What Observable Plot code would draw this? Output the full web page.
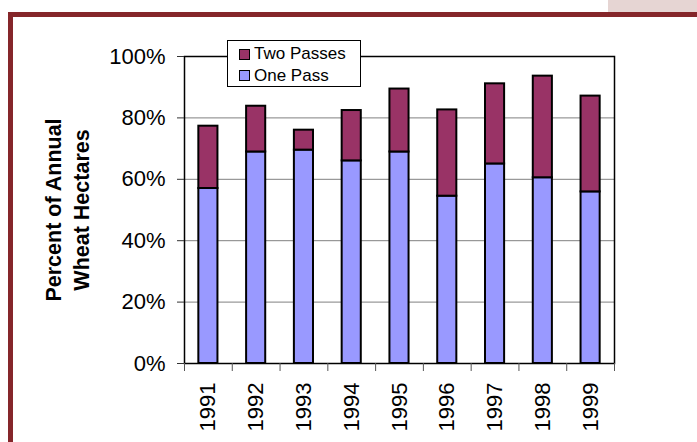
<!DOCTYPE html>
<html>
<head>
<meta charset="utf-8">
<script src="https://cdn.jsdelivr.net/npm/d3@7"></script>
<script src="https://cdn.jsdelivr.net/npm/@observablehq/plot@0.6"></script>
<style>
  body { margin: 0; background: #fff; font-family: "Liberation Sans", Arial, sans-serif; }
  #page { position: relative; width: 697px; height: 442px; overflow: hidden; }
  #chart { position: absolute; left: 0; top: 0; }
  #tab { position: absolute; left: 608px; top: 0; width: 89px; height: 12px; background: #e6d5d3; }
  #rule-top { position: absolute; left: 8px; top: 12px; width: 689px; height: 5px; background: #85262a; }
  #rule-left { position: absolute; left: 8px; top: 12px; width: 5px; height: 430px; background: #85262a; }
  #legend { position: absolute; left: 227px; top: 40px; width: 134px; height: 47px; box-sizing: border-box;
            border: 1px solid #000; background: #fff; font-size: 17px; color: #000; }
  .item { position: absolute; left: 11px; height: 20px; display: flex; align-items: center; }
  .swatch { width: 9px; height: 9px; border: 1.5px solid #000; margin-right: 4px; }
</style>
</head>
<body>
<div id="page">
  <div id="chart"></div>
  <div id="tab"></div>
  <div id="rule-top"></div>
  <div id="rule-left"></div>
  <div id="legend"></div>
</div>
<script>
// Share of annual wheat hectares treated, by year
const years = ["1991", "1992", "1993", "1994", "1995", "1996", "1997", "1998", "1999"];
const onePass = [57.0, 68.9, 69.5, 66.0, 68.9, 54.5, 65.0, 60.5, 55.9];
const twoPasses = [20.3, 14.9, 6.5, 16.4, 20.5, 28.1, 26.1, 33.1, 31.2];
const seriesNames = ["One Pass", "Two Passes"];
const seriesColors = ["#9999ff", "#993366"];
const yTicks = [0, 20, 40, 60, 80, 100];

// long table, one pass stacked first (bottom)
const rows = [
  ...years.map((year, i) => ({ year, series: seriesNames[0], value: onePass[i] })),
  ...years.map((year, i) => ({ year, series: seriesNames[1], value: twoPasses[i] }))
];

const width = 697, height = 442;
const marginLeft = 184, marginRight = 83, marginTop = 56, marginBottom = 79;
const step = (width - marginLeft - marginRight) / years.length;

const chart = Plot.plot({
  width, height, marginLeft, marginRight, marginTop, marginBottom,
  style: { fontFamily: "'Liberation Sans', Arial, sans-serif", color: "#000", background: "transparent" },
  x: { domain: years, paddingInner: 0.6, paddingOuter: 0.3, round: false, label: null },
  y: { domain: [0, 100], label: null },
  color: { domain: seriesNames, range: seriesColors },
  marks: [
    Plot.gridY(yTicks.filter(d => d > 0 && d < 100), { stroke: "#808080", strokeOpacity: 1, strokeWidth: 1 }),
    Plot.barY(rows, Plot.stackY({ x: "year", y: "value", fill: "series", stroke: "#000", strokeWidth: 2 })),
    Plot.frame({ stroke: "#000", strokeWidth: 1.5 }),
    // y axis labels and ticks
    Plot.axisY({ ticks: yTicks, tickFormat: d => d + "%", tickSize: 7, tickPadding: 12, fontSize: 22, stroke: "#333", label: null }),
    // category boundary ticks under the x axis
    Plot.axisX({ ticks: years, tickSize: 8, text: null, dx: -step / 2, stroke: "#555", label: null }),
    Plot.axisX({ ticks: years.slice(-1), tickSize: 8, text: null, dx: step / 2, stroke: "#555", label: null }),
    // year labels, rotated
    Plot.axisX({ ticks: years, tickSize: 0, tickPadding: 19, tickRotate: -90, fontSize: 22, fontWeight: "normal", label: null }),
    // y axis title
    Plot.text(["Percent of Annual\nWheat Hectares"], {
      text: d => d, frameAnchor: "left", textAnchor: "middle", dx: -118, rotate: -90,
      fontSize: 21.5, fontWeight: "bold", lineHeight: 1.3
    })
  ]
});
document.getElementById("chart").appendChild(chart);

// legend: upper series listed first
const legend = document.getElementById("legend");
[1, 0].forEach((k, row) => {
  const item = document.createElement("div");
  item.className = "item";
  item.style.top = (3 + row * 21.5) + "px";
  const sw = document.createElement("span");
  sw.className = "swatch";
  sw.style.background = seriesColors[k];
  const label = document.createElement("span");
  label.textContent = seriesNames[k];
  item.append(sw, label);
  legend.appendChild(item);
});
</script>
</body>
</html>
